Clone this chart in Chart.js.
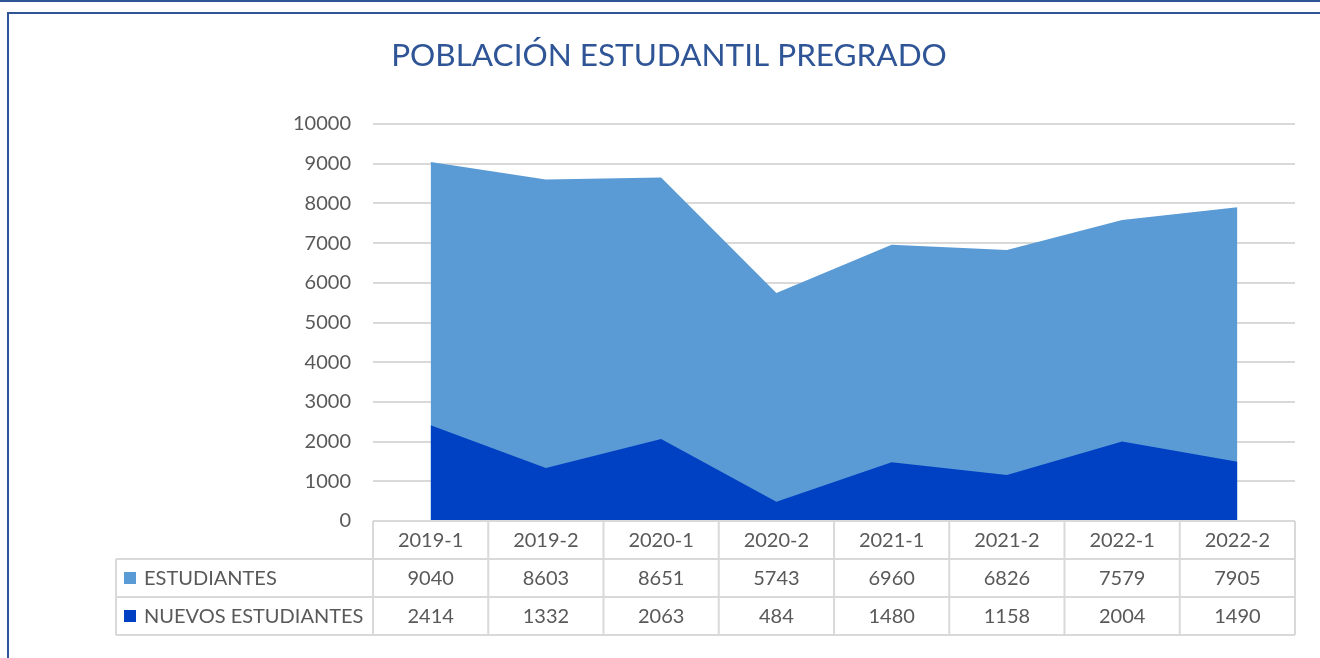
<!DOCTYPE html>
<html>
<head>
<meta charset="utf-8">
<script src="https://cdn.jsdelivr.net/npm/chart.js@4/dist/chart.umd.min.js"></script>
<style>
  body { margin: 0; background: #fff; }
  canvas { display: block; }
</style>
</head>
<body>
<canvas id="myChart" width="1320" height="658"></canvas>
<script>
const periodos = ['2019-1', '2019-2', '2020-1', '2020-2', '2021-1', '2021-2', '2022-1', '2022-2'];
const estudiantes = [9040, 8603, 8651, 5743, 6960, 6826, 7579, 7905];
const nuevos = [2414, 1332, 2063, 484, 1480, 1158, 2004, 1490];
const titulo = 'POBLACIÓN ESTUDANTIL PREGRADO';

const colorClaro = '#5B9BD5';
const colorOscuro = '#0041C4';
const colorTexto = '#595959';
const colorLinea = '#D9D9D9';
const fuente = 'Lato, "Open Sans", sans-serif';

const marco = {
    id: 'marco',
    beforeDraw: (chart) => {
        const ctx = chart.ctx;
        ctx.save();
        ctx.fillStyle = '#fff';
        ctx.fillRect(0, 0, chart.width, chart.height);
        ctx.strokeStyle = '#2F5597';
        ctx.lineWidth = 2;
        ctx.beginPath();
        ctx.moveTo(0, 1);
        ctx.lineTo(chart.width, 1);
        ctx.moveTo(8, chart.height);
        ctx.lineTo(8, 13);
        ctx.lineTo(chart.width, 13);
        ctx.stroke();
        // titulo
        ctx.fillStyle = '#2F5597';
        ctx.font = '31.5px ' + fuente;
        ctx.textAlign = 'center';
        ctx.textBaseline = 'middle';
        ctx.fillText(titulo, 669, 56);
        ctx.restore();
    }
};

const tabla = {
    id: 'tabla',
    afterDraw: (chart) => {
        const ctx = chart.ctx;
        const area = chart.chartArea;
        const n = periodos.length;
        const colW = (area.right - area.left) / n;
        const rowH = 38;
        const top = area.bottom;
        const izq = 116;
        ctx.save();
        ctx.strokeStyle = colorLinea;
        ctx.lineWidth = 2;
        ctx.beginPath();
        ctx.moveTo(area.left, top);
        ctx.lineTo(area.right, top);
        for (let r = 1; r <= 3; r++) {
            ctx.moveTo(izq, top + r * rowH);
            ctx.lineTo(area.right, top + r * rowH);
        }
        ctx.moveTo(izq, top + rowH);
        ctx.lineTo(izq, top + 3 * rowH);
        for (let i = 0; i <= n; i++) {
            const x = area.left + i * colW;
            ctx.moveTo(x, top);
            ctx.lineTo(x, top + 3 * rowH);
        }
        ctx.stroke();

        ctx.fillStyle = colorTexto;
        ctx.font = '20px ' + fuente;
        ctx.textAlign = 'center';
        ctx.textBaseline = 'middle';
        const filas = [periodos, estudiantes, nuevos];
        filas.forEach((fila, r) => {
            fila.forEach((v, i) => {
                ctx.fillText(String(v), area.left + (i + 0.5) * colW, top + (r + 0.5) * rowH + 1);
            });
        });

        const series = [['ESTUDIANTES', colorClaro], ['NUEVOS ESTUDIANTES', colorOscuro]];
        ctx.textAlign = 'left';
        series.forEach((s, k) => {
            const yc = top + (k + 1.5) * rowH;
            ctx.fillStyle = s[1];
            ctx.fillRect(124, yc - 6, 12, 12);
            ctx.fillStyle = colorTexto;
            ctx.fillText(s[0], 144, yc + 1);
        });
        ctx.restore();
    }
};

const ctx = document.getElementById('myChart').getContext('2d');
window.grafica = new Chart(ctx, {
    type: 'line',
    data: {
        labels: periodos,
        datasets: [{
            label: 'ESTUDIANTES',
            data: estudiantes,
            backgroundColor: colorClaro,
            borderWidth: 0,
            pointRadius: 0,
            fill: 'origin',
            order: 1
        }, {
            label: 'NUEVOS ESTUDIANTES',
            data: nuevos,
            backgroundColor: colorOscuro,
            borderWidth: 0,
            pointRadius: 0,
            fill: 'origin',
            order: 0
        }]
    },
    options: {
        responsive: false,
        animation: false,
        layout: {
            padding: { top: 124, left: 0, right: 25, bottom: 137 }
        },
        plugins: {
            legend: { display: false },
            title: { display: false },
            tooltip: { enabled: false }
        },
        scales: {
            x: {
                display: false,
                offset: true
            },
            y: {
                min: 0,
                max: 10000,
                ticks: {
                    stepSize: 1000,
                    color: colorTexto,
                    padding: 22,
                    font: { family: fuente, size: 20 },
                    callback: (v) => String(v)
                },
                grid: {
                    color: colorLinea,
                    lineWidth: 2,
                    drawTicks: false
                },
                border: { display: false },
                afterFit: (scale) => { scale.width = 373; }
            }
        }
    },
    plugins: [marco, tabla]
});
</script>
</body>
</html>
